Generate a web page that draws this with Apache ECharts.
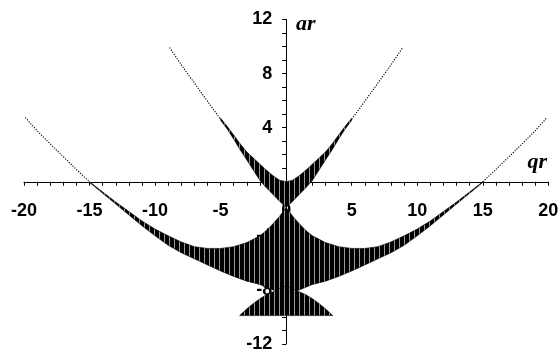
<!DOCTYPE html>
<html>
<head>
<meta charset="utf-8">
<script src="https://cdn.jsdelivr.net/npm/echarts@6/dist/echarts.min.js"></script>
<style>
  html, body { margin: 0; padding: 0; background: #fff; }
  #chart { width: 559px; height: 351px; }
</style>
</head>
<body>
<div id="chart"></div>
<script>
// Band edges (qr on x, ar on y)

// central "U" band
const bandAX    = [-5, -4.5, -4, -3.5, -3, -2.5, -2, -1.5, -1, -0.5, 0, 0.5, 1, 1.5, 2, 2.5, 3, 3.5, 4, 4.5, 5];
const bandALow  = [4.55, 3.9, 3.15, 2.35, 1.6, 0.85, 0.1, -0.45, -0.95, -1.45, -1.9, -1.45, -0.95, -0.45, 0.1, 0.85, 1.6, 2.35, 3.15, 3.9, 4.55];
const bandAHigh = [4.7, 4.1, 3.45, 2.8, 2.2, 1.75, 1.3, 0.85, 0.45, 0.12, 0, 0.12, 0.45, 0.85, 1.3, 1.75, 2.2, 2.8, 3.45, 4.1, 4.7];

// big "smile" band
const bandBX    = [-15, -14, -13, -12, -11, -10, -9, -8, -7, -6, -5, -4, -3, -2, -1.5, -1, -0.5, 0, 0.5, 1, 1.5, 2, 3, 4, 5, 6, 7, 8, 9, 10, 11, 12, 13, 14, 15];
const bandBHigh = [0, -0.75, -1.5, -2.2, -2.9, -3.5, -4.0, -4.45, -4.8, -4.93, -4.93, -4.8, -4.5, -4.0, -3.6, -3.1, -2.55, -1.9, -2.55, -3.1, -3.6, -4.0, -4.5, -4.8, -4.93, -4.93, -4.8, -4.45, -4.0, -3.5, -2.9, -2.2, -1.5, -0.75, 0];
const bandBLow  = [-0.05, -0.85, -1.65, -2.45, -3.25, -4.0, -4.7, -5.25, -5.7, -6.15, -6.6, -7.0, -7.35, -7.6, -7.8, -8.0, -8.15, -8.3, -8.15, -8.0, -7.8, -7.6, -7.35, -7.0, -6.6, -6.15, -5.7, -5.25, -4.7, -4.0, -3.25, -2.45, -1.65, -0.85, -0.05];

// bottom cap
const bandCX    = [-3.55, -3, -2.5, -2, -1.5, -0.9, -0.5, 0, 0.5, 0.9, 1.5, 2, 2.5, 3, 3.55];
const bandCHigh = [-9.9, -9.4, -9.0, -8.65, -8.35, -8.1, -7.9, -7.7, -7.9, -8.1, -8.35, -8.65, -9.0, -9.4, -9.9];
const bandCLow  = [-9.9, -9.9, -9.9, -9.9, -9.9, -9.9, -9.9, -9.9, -9.9, -9.9, -9.9, -9.9, -9.9, -9.9, -9.9];

// thin tails
const tailALX = [-8.9, -8, -7, -6, -5];
const tailALY = [9.93, 8.65, 7.3, 5.95, 4.62];
const tailARX = [5, 6, 7, 8, 8.9];
const tailARY = [4.62, 5.95, 7.3, 8.65, 9.93];
const tailBLX = [-19.9, -19, -18, -17, -16, -15];
const tailBLY = [4.75, 3.77, 2.8, 1.85, 0.9, 0];
const tailBRX = [15, 16, 17, 18, 19, 19.9];
const tailBRY = [0, 0.9, 1.85, 2.8, 3.77, 4.75];

const xTicks = { min: -20, max: 20, step: 5 };
const yTicks = { min: -12, max: 12, step: 4 };

// plot box in pixels; the axes cross in its middle
const box = { left: 24, top: 19.5, width: 524.3, height: 324.5 };

// vertical hatch fill, like the dense columns of points in the original
const hatch = document.createElement('canvas');
hatch.width = 5; hatch.height = 4;
const hctx = hatch.getContext('2d');
hctx.fillStyle = '#000';
hctx.fillRect(0, 0, 5, 4);
hctx.fillStyle = '#9a9a9a';
hctx.fillRect(4, 0, 1, 4);

function bandRows(xs, lo, hi) {
  return xs.map((x, i) => [x, lo[i], hi[i]]);
}

function bandSeries(rows) {
  return {
    type: 'custom',
    data: rows,
    z: 3,
    silent: true,
    renderItem: (params, api) => {
      if (params.dataIndex !== 0) return;
      const top = rows.map(r => api.coord([r[0], r[2]]));
      const bottom = rows.slice().reverse().map(r => api.coord([r[0], r[1]]));
      return {
        type: 'polygon',
        shape: { points: top.concat(bottom) },
        style: { fill: { image: hatch, repeat: 'repeat' }, stroke: '#000', lineWidth: 0.6 }
      };
    }
  };
}

function tailSeries(xs, ys) {
  return {
    type: 'line',
    data: xs.map((x, i) => [x, ys[i]]),
    showSymbol: false,
    silent: true,
    z: 3,
    lineStyle: { color: '#000', width: 1.1, type: [1.2, 1.4] }
  };
}

const labelStyle = {
  color: '#000',
  fontFamily: '"Liberation Sans", Arial, sans-serif',
  fontWeight: 'bold',
  fontSize: 18
};

const chart = echarts.init(document.getElementById('chart'));

chart.setOption({
  animation: false,
  backgroundColor: '#fff',
  grid: {
    left: box.left, top: box.top, width: box.width, height: box.height,
    containLabel: false, outerBoundsMode: 'none'
  },
  xAxis: {
    type: 'value',
    min: xTicks.min,
    max: xTicks.max,
    interval: xTicks.step,
    offset: -box.height / 2,
    axisLine: { onZero: false, lineStyle: { color: '#000', width: 1 } },
    axisTick: { length: 4, lineStyle: { color: '#000', width: 1 } },
    minorTick: { show: true, splitNumber: 5, length: 4, lineStyle: { color: '#000', width: 1 } },
    axisLabel: Object.assign({ margin: 20 }, labelStyle),
    splitLine: { show: false }
  },
  yAxis: {
    type: 'value',
    min: yTicks.min,
    max: yTicks.max,
    interval: yTicks.step,
    offset: -box.width / 2,
    axisLine: { onZero: false, lineStyle: { color: '#000', width: 1 } },
    axisTick: { length: 4, lineStyle: { color: '#000', width: 1 } },
    minorTick: { show: true, splitNumber: 4, length: 4, lineStyle: { color: '#000', width: 1 } },
    axisLabel: Object.assign({ margin: 14 }, labelStyle),
    splitLine: { show: false }
  },
  graphic: [
    {
      type: 'text', left: 296, top: 13, silent: true,
      style: { text: 'ar', fill: '#000', font: 'italic bold 22px "Liberation Serif", "Times New Roman", serif' }
    },
    {
      type: 'text', right: 12, top: 151, silent: true,
      style: { text: 'qr', fill: '#000', font: 'italic bold 22px "Liberation Serif", "Times New Roman", serif' }
    }
  ],
  series: [
    bandSeries(bandRows(bandAX, bandALow, bandAHigh)),
    bandSeries(bandRows(bandBX, bandBLow, bandBHigh)),
    bandSeries(bandRows(bandCX, bandCLow, bandCHigh)),
    tailSeries(tailALX, tailALY),
    tailSeries(tailARX, tailARY),
    tailSeries(tailBLX, tailBLY),
    tailSeries(tailBRX, tailBRY)
  ]
});
</script>
</body>
</html>
